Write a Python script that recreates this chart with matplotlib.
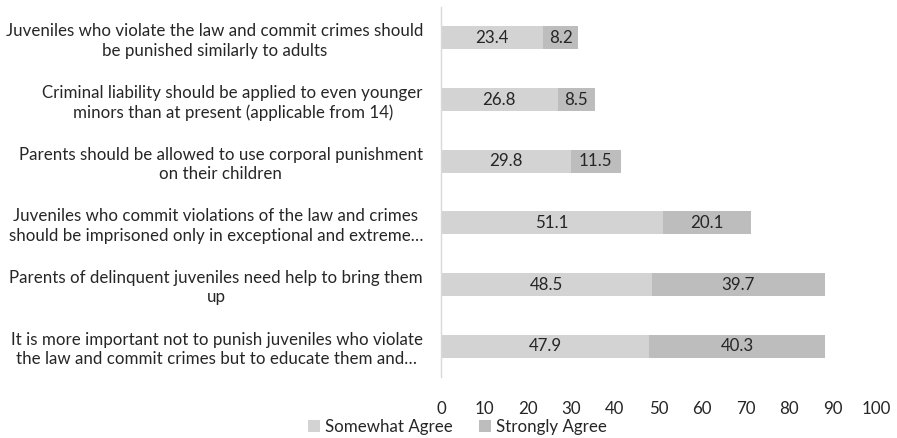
import matplotlib.pyplot as plt
import numpy as np

plt.rcParams['font.family'] = ['Lato', 'DejaVu Sans']

statements = [
    "Juveniles who violate the law and commit crimes should\nbe punished similarly to adults",
    "Criminal liability should be applied to even younger\nminors than at present (applicable from 14)",
    "Parents should be allowed to use corporal punishment\non their children",
    "Juveniles who commit violations of the law and crimes\nshould be imprisoned only in exceptional and extreme\u2026",
    "Parents of delinquent juveniles need help to bring them\nup",
    "It is more important not to punish juveniles who violate\nthe law and commit crimes but to educate them and\u2026",
]
somewhat_agree = [23.4, 26.8, 29.8, 51.1, 48.5, 47.9]
strongly_agree = [8.2, 8.5, 11.5, 20.1, 39.7, 40.3]
series_names = ["Somewhat Agree", "Strongly Agree"]
colors = ["#D3D3D3", "#BDBDBD"]
xticks = [0, 10, 20, 30, 40, 50, 60, 70, 80, 90, 100]
text_color = '#262626'
fs = 12.2

fig = plt.figure(figsize=(8.97, 4.38), dpi=100)
ax = fig.add_axes([0.4916, 0.139, 0.485, 0.845])

y = np.arange(len(statements))
h = 0.37
b1 = ax.barh(y, somewhat_agree, height=h, color=colors[0], label=series_names[0])
b2 = ax.barh(y, strongly_agree, left=somewhat_agree, height=h, color=colors[1], label=series_names[1])

# value labels centred in each segment
for vals, lefts in [(somewhat_agree, [0] * len(y)), (strongly_agree, somewhat_agree)]:
    for yi, v, l in zip(y, vals, lefts):
        ax.text(l + v / 2, yi, f"{v:.1f}", ha='center', va='center', fontsize=fs, color=text_color)

ax.set_ylim(len(statements) - 0.5, -0.5)
ax.set_xlim(0, 100)
ax.set_xticks(xticks)
ax.set_yticks(y)
ax.set_yticklabels(statements, multialignment='center', fontsize=fs, color=text_color,
                   linespacing=1.25)
ax.tick_params(axis='x', length=0, labelsize=fs, labelcolor=text_color, pad=17)
ax.tick_params(axis='y', length=0, pad=13)

for s in ['top', 'right', 'bottom']:
    ax.spines[s].set_visible(False)
ax.spines['left'].set_color('#D9D9D9')
ax.spines['left'].set_linewidth(1.0)

fig.legend(loc='center', bbox_to_anchor=(0.51, 0.026), ncol=2, frameon=False,
           fontsize=fs, handlelength=0.7, handleheight=0.7, columnspacing=1.6,
           handletextpad=0.3, labelcolor=text_color, borderpad=0.1)

fig.savefig("out.png", dpi=100)
